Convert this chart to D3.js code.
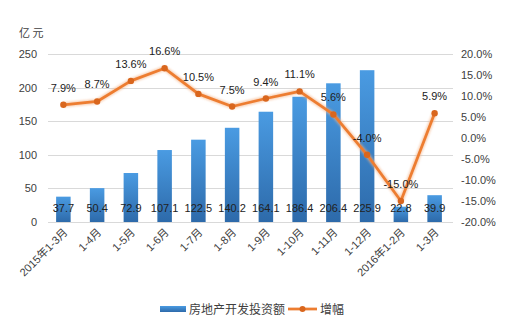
<!DOCTYPE html>
<html><head><meta charset="utf-8">
<script src="https://cdn.jsdelivr.net/npm/d3@7"></script>
<style>
body{margin:0;background:#fff;}
text{font-family:"Liberation Sans","Noto Sans CJK SC",sans-serif;}
</style></head>
<body>
<svg id="c" width="505" height="329"></svg>
<script>
const categories = ["2015年1-3月","1-4月","1-5月","1-6月","1-7月","1-8月","1-9月","1-10月","1-11月","1-12月","2016年1-2月","1-3月"];
const investment = [37.7,50.4,72.9,107.1,122.5,140.2,164.1,186.4,206.4,225.9,22.8,39.9];
const growth = [7.9,8.7,13.6,16.6,10.5,7.5,9.4,11.1,5.6,-4.0,-15.0,5.9];
const leftTicks = [0,50,100,150,200,250];
const rightTicks = [-20,-15,-10,-5,0,5,10,15,20];
const seriesNames = ["房地产开发投资额","增幅"];
const unitLabel = "亿 元";

const svg = d3.select("#c");
const defs = svg.append("defs");
const grad = defs.append("linearGradient").attr("id","bg").attr("x1",0).attr("y1",0).attr("x2",0).attr("y2",1);
grad.append("stop").attr("offset","0%").attr("stop-color","#4a9be2");
grad.append("stop").attr("offset","100%").attr("stop-color","#2d6aaa");
const glow = defs.append("filter").attr("id","glow").attr("x","-10%").attr("y","-10%").attr("width","120%").attr("height","120%");
glow.append("feGaussianBlur").attr("stdDeviation",1.2);

const x0 = 46.5, x1 = 451.5, yTop = 54, yBot = 222;
const x = d3.scaleBand().domain(categories).range([x0,x1]).paddingInner(0.57).paddingOuter(0.285);
const yL = d3.scaleLinear().domain([0,250]).range([yBot,yTop]);
const yR = d3.scaleLinear().domain([-20,20]).range([yBot,yTop]);
const cx = d => x(d) + x.bandwidth()/2;

// gridlines
svg.append("g").selectAll("line").data(leftTicks).join("line")
  .attr("x1",48).attr("x2",453).attr("y1",d=>Math.round(yL(d))+0.5).attr("y2",d=>Math.round(yL(d))+0.5)
  .attr("stroke","#d9d9d9").attr("stroke-width",1);

// left axis
const ga = svg.append("g").attr("transform",`translate(40,0)`)
  .call(d3.axisLeft(yL).tickValues(leftTicks).tickSize(0).tickPadding(3));
ga.select(".domain").remove();
ga.selectAll("text").attr("font-size",11).attr("fill","#404040").style("font-family","Liberation Sans");

// right axis
const gr = svg.append("g").attr("transform",`translate(458,0)`)
  .call(d3.axisRight(yR).tickValues(rightTicks).tickSize(0).tickPadding(3).tickFormat(d=>d.toFixed(1)+"%"));
gr.select(".domain").remove();
gr.selectAll("text").attr("font-size",11).attr("fill","#404040").style("font-family","Liberation Sans");

svg.append("text").attr("x",19).attr("y",37).attr("font-size",11).attr("fill","#404040")
  .style("font-family","Noto Sans CJK SC").text(unitLabel);

// bars
svg.append("g").selectAll("rect").data(investment).join("rect")
  .attr("x",(d,i)=>x(categories[i])).attr("width",x.bandwidth())
  .attr("y",d=>yL(d)).attr("height",d=>yBot-yL(d)).attr("fill","url(#bg)");

// bar labels
svg.append("g").selectAll("text").data(investment).join("text")
  .attr("x",(d,i)=>cx(categories[i])).attr("y",212).attr("text-anchor","middle")
  .attr("font-size",11).attr("fill","#222").text(d=>d.toFixed(1));

// x labels
svg.append("g").selectAll("text").data(categories).join("text")
  .attr("transform",d=>`translate(${cx(d)+5},${233}) rotate(-45)`)
  .attr("text-anchor","end").attr("font-size",11).attr("fill","#404040")
  .style("font-family","Liberation Sans, Noto Sans CJK SC").text(d=>d);

// line
const line = d3.line().x((d,i)=>cx(categories[i])).y(d=>yR(d));
svg.append("path").datum(growth).attr("d",line).attr("fill","none")
  .attr("stroke","#f4b183").attr("stroke-width",5).attr("stroke-linejoin","round").attr("opacity",0.6).attr("filter","url(#glow)");
svg.append("path").datum(growth).attr("d",line).attr("fill","none")
  .attr("stroke","#ed7d31").attr("stroke-width",2.75).attr("stroke-linejoin","round");
svg.append("g").selectAll("circle").data(growth).join("circle")
  .attr("cx",(d,i)=>cx(categories[i])).attr("cy",d=>yR(d)).attr("r",3.2).attr("fill","#d9661d");

// line labels
svg.append("g").selectAll("text").data(growth).join("text")
  .attr("x",(d,i)=>cx(categories[i])).attr("y",d=>yR(d)-13).attr("text-anchor","middle")
  .attr("font-size",11).attr("fill","#222").text(d=>d.toFixed(1)+"%");

// legend
const lg = svg.append("g");
lg.append("rect").attr("x",160).attr("y",306).attr("width",26).attr("height",6).attr("fill","url(#bg)");
lg.append("text").attr("x",189).attr("y",313.5).attr("font-size",12).attr("fill","#404040")
  .style("font-family","Noto Sans CJK SC").text(seriesNames[0]);
lg.append("line").attr("x1",288).attr("x2",317).attr("y1",309).attr("y2",309)
  .attr("stroke","#ed7d31").attr("stroke-width",2.75);
lg.append("circle").attr("cx",302.5).attr("cy",309).attr("r",3).attr("fill","#d9661d");
lg.append("text").attr("x",320).attr("y",313.5).attr("font-size",12).attr("fill","#404040")
  .style("font-family","Noto Sans CJK SC").text(seriesNames[1]);
</script>
</body></html>
